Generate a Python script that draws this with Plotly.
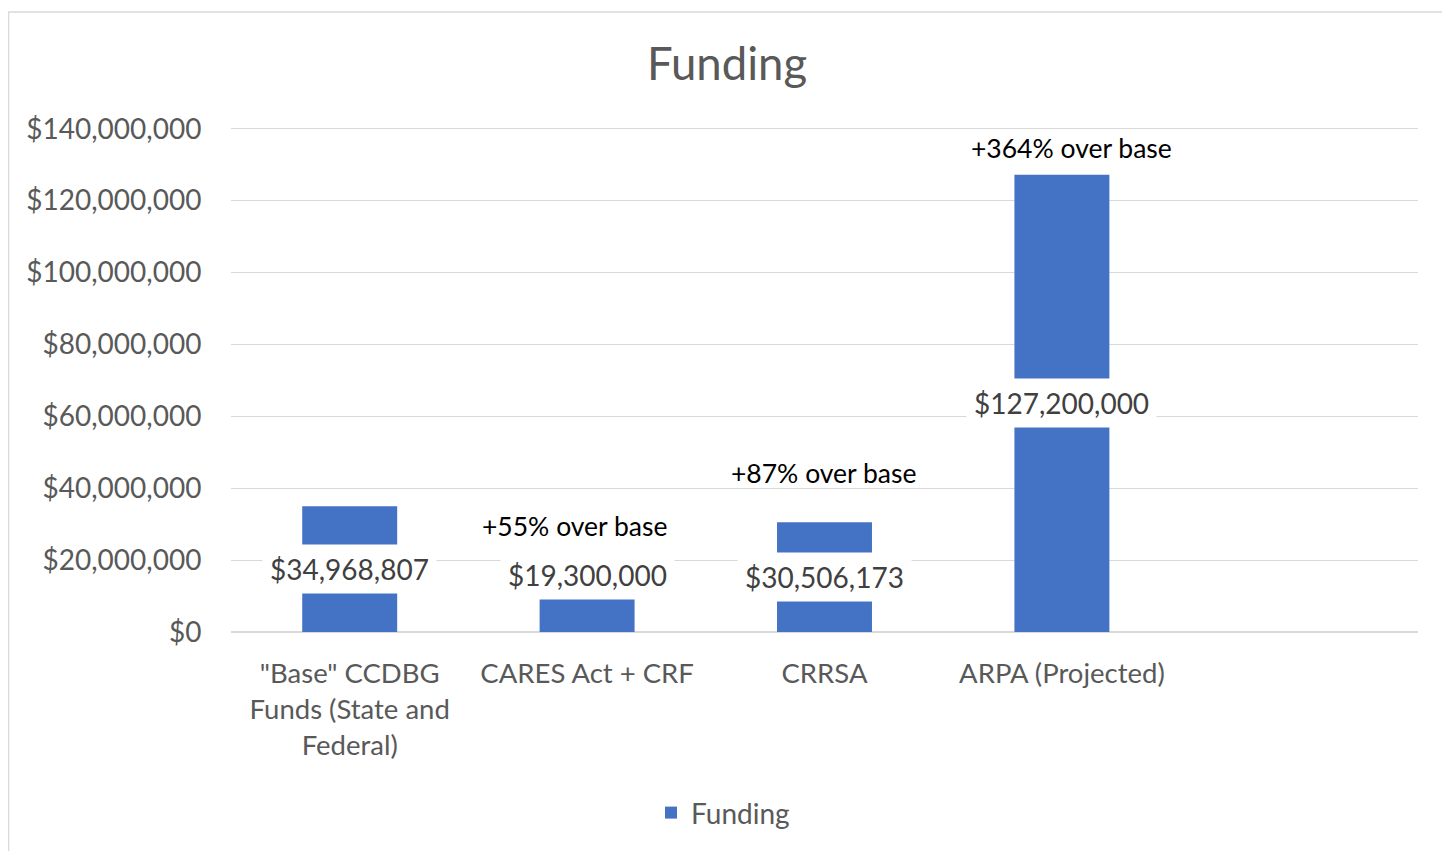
import plotly.graph_objects as go

categories = ['"Base" CCDBG<br>Funds (State and<br>Federal)', "CARES Act + CRF", "CRRSA", "ARPA (Projected)", " "]
values = [34968807, 19300000, 30506173, 127200000, None]
value_labels = ["$34,968,807", "$19,300,000", "$30,506,173", "$127,200,000"]
note_texts = ["+55% over base", "+87% over base", "+364% over base"]
note_categories = ["CARES Act + CRF", "CRRSA", "ARPA (Projected)"]
y_ticks = [0, 20000000, 40000000, 60000000, 80000000, 100000000, 120000000, 140000000]
y_ticklabels = ["$0", "$20,000,000", "$40,000,000", "$60,000,000", "$80,000,000",
                "$100,000,000", "$120,000,000", "$140,000,000"]

FONT = "Lato"
BLUE = "#4472C4"
GRID = "#D9D9D9"

W, H = 1442, 843          # page offset of 8px (body margin) compensated
ML, MR, MT, MB = 223, 32, 118.7, 219
PH = H - MT - MB
PW = W - ML - MR

fig = go.Figure()
fig.add_trace(go.Bar(
    x=categories, y=values, name="Funding",
    marker=dict(color=BLUE, line=dict(width=0)),
    width=0.4, showlegend=True,
))

# data labels (centered on bars, white background)
label_shift = [0, 22, 0, 0]
for cat, v, txt, sh in zip(categories, values, value_labels, label_shift):
    fig.add_annotation(
        x=cat, y=v / 2, xref="x", yref="y", text=txt, showarrow=False,
        font=dict(family=FONT, size=28, color="#404040"),
        bgcolor="white", borderpad=7, yshift=sh,
    )

# over-base notes
note_y = [29400000, 44200000, 134700000]
note_xshift = [-13, -1, 10]
for cat, txt, y, xs in zip(note_categories, note_texts, note_y, note_xshift):
    fig.add_annotation(
        x=cat, y=y, xref="x", yref="y", text=txt, showarrow=False,
        font=dict(family=FONT, size=26.5, color="#000000"), xshift=xs,
    )

# chart border
fig.add_shape(
    type="rect", xref="paper", yref="paper", xsizemode="pixel", ysizemode="pixel",
    xanchor=0, yanchor=0, x0=-222.5, x1=1216, y0=-240, y1=620,
    line=dict(color=GRID, width=1.5), fillcolor="rgba(0,0,0,0)", layer="below",
)

fig.update_layout(
    width=W, height=H,
    margin=dict(l=ML, r=MR, t=MT, b=MB, pad=0),
    paper_bgcolor="white", plot_bgcolor="white",
    title=dict(text="Funding", x=719 / W, xanchor="center", y=1 - 56 / H, yanchor="middle",
               font=dict(family=FONT, size=45.5, color="#595959")),
    font=dict(family=FONT, size=27.5, color="#595959"),
    bargap=0.6,
    xaxis=dict(
        range=[-0.5, 4.5], showgrid=False, showline=False, zeroline=False,
        tickfont=dict(family=FONT, size=27.5, color="#595959"),
        ticks="outside", ticklen=17, tickcolor="rgba(0,0,0,0)",
    ),
    yaxis=dict(
        range=[0, 140500000], tickvals=y_ticks, ticktext=y_ticklabels,
        showgrid=True, gridcolor=GRID, gridwidth=1.3,
        zeroline=True, zerolinecolor=GRID, zerolinewidth=1.5, showline=False,
        tickfont=dict(family=FONT, size=28, color="#595959"),
        ticks="outside", ticklen=23, tickcolor="rgba(0,0,0,0)",
    ),
    legend=dict(
        orientation="h", x=(715 - ML) / PW, xanchor="center",
        y=(624 - 805) / PH, yanchor="middle",
        font=dict(family=FONT, size=28, color="#595959"),
        bgcolor="rgba(0,0,0,0)",
    ),
)

fig.write_html("out.html")
